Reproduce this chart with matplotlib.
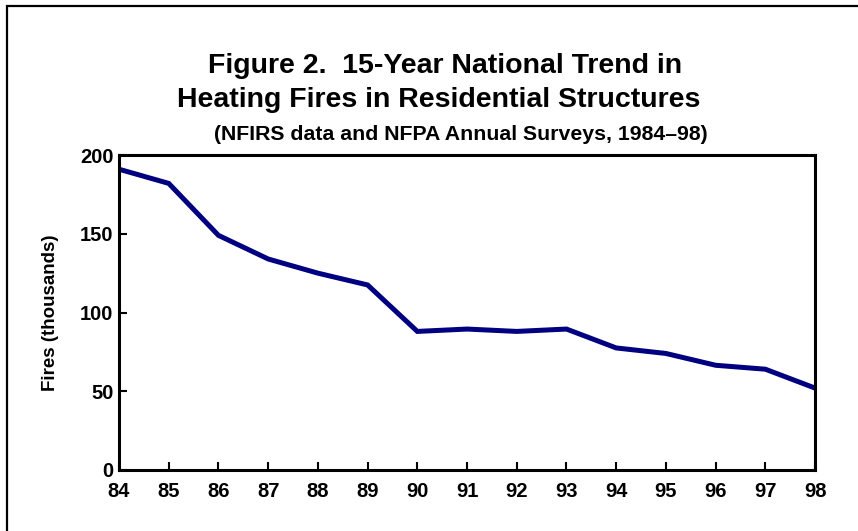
import matplotlib
matplotlib.use("Agg")
import matplotlib.pyplot as plt
from matplotlib.patches import Rectangle

plt.rcParams['font.family'] = ['Liberation Sans', 'DejaVu Sans']
plt.rcParams['font.weight'] = 'bold'

# Dati
anni = [84, 85, 86, 87, 88, 89, 90, 91, 92, 93, 94, 95, 96, 97, 98]
incendi = [191, 182, 149, 134, 125, 117.5, 88, 89.5, 88, 89.5, 77.5, 74, 66.5, 64, 52]
tick_y = [0, 50, 100, 150, 200]

titolo_1 = "Figure 2.  15-Year National Trend in"
titolo_2 = "Heating Fires in Residential Structures"
sottotitolo = "(NFIRS data and NFPA Annual Surveys, 1984\u201398)"

fig = plt.figure(figsize=(8.58, 5.31), dpi=100)
ax = fig.add_axes([0.1387, 0.1149, 0.8113, 0.5931])

ax.plot(anni, incendi, color='#000080', linewidth=3.6, solid_joinstyle='miter')

ax.set_xlim(84, 98)
ax.set_ylim(0, 200)
ax.set_xticks(anni)
ax.set_yticks(tick_y)
ax.tick_params(direction='in', length=6, width=1.5, labelsize=14.5)
ax.tick_params(axis='x', pad=9)
ax.tick_params(axis='y', pad=4)
for lab in ax.get_xticklabels() + ax.get_yticklabels():
    lab.set_fontweight('bold')
for s in ax.spines.values():
    s.set_linewidth(2.2)

ax.set_ylabel('Fires (thousands)', fontsize=13.5, fontweight='bold', labelpad=15)

fig.text(445 / 858, 1 - 66 / 531, titolo_1, ha='center', va='center', fontsize=20.5,
         fontweight='bold')
fig.text(439 / 858, 1 - 100 / 531, titolo_2, ha='center', va='center', fontsize=20.5,
         fontweight='bold')
fig.text(461 / 858, 1 - 134 / 531, sottotitolo, ha='center', va='center', fontsize=15.3,
         fontweight='bold')

# bordo esterno (solo sinistra e alto visibili)
fig.add_artist(Rectangle((7 / 858, -0.1), 1.2, 1.1 - 6 / 531, transform=fig.transFigure,
                         fill=False, edgecolor='black', linewidth=1.6))

fig.savefig('out.png', dpi=100)
